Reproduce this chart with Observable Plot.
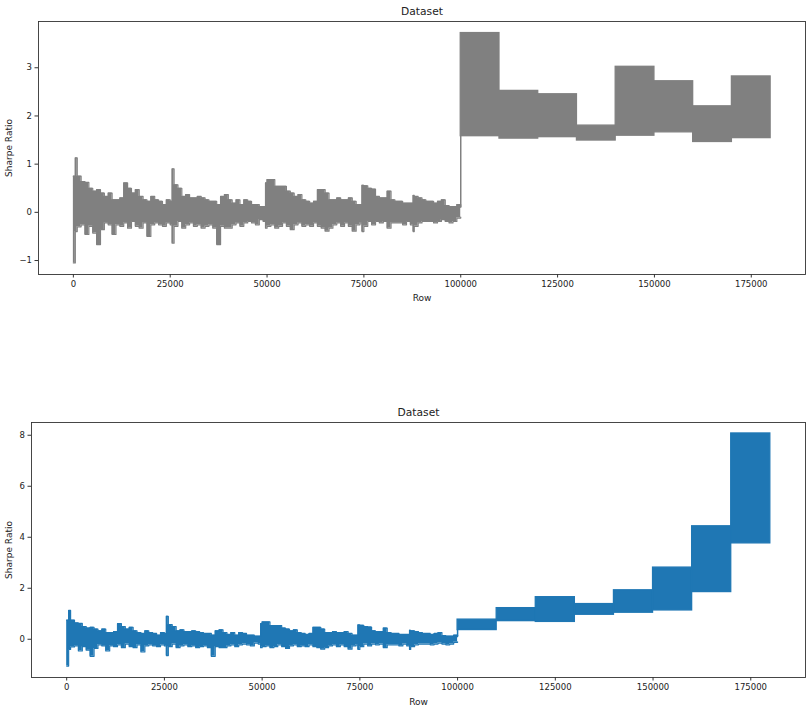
<!DOCTYPE html>
<html><head><meta charset="utf-8">
<script src="https://cdn.jsdelivr.net/npm/d3@7"></script>
<script src="https://cdn.jsdelivr.net/npm/@observablehq/plot@0.6"></script>
<style>
body{margin:0;background:#fff;width:810px;height:712px;position:relative;overflow:hidden;font-family:"DejaVu Sans",sans-serif}
#top,#bottom{position:absolute;left:0}
#top{top:0}
#bottom{top:400px}
</style></head><body><div id="top"></div><div id="bottom"></div>
<script>
// Envelope of the dense oscillating series for rows 0..100000 (same in both panels)
const envRows = [0,500,1000,2000,3000,4000,5000,6000,7000,8000,9000,10000,11000,12000,13000,14000,15000,16000,17000,18000,19000,20000,21000,22000,23000,24000,25000,25500,26000,27000,28000,29000,30000,31000,32000,33000,34000,35000,36000,37000,38000,39000,40000,41000,42000,43000,44000,45000,46000,47000,48000,49000,49600,50000,51000,52000,53000,54000,55000,56000,57000,58000,59000,60000,61000,62000,63000,64000,65000,66000,67000,68000,69000,70000,71000,72000,73000,74000,74500,75000,76000,77000,78000,79000,80000,81000,82000,83000,84000,85000,86000,87000,87700,88000,89000,90000,91000,92000,93000,94000,95000,96000,97000,98000,99000,100000];
const envHigh = [0.75,1.13,0.75,0.64,0.62,0.50,0.44,0.47,0.40,0.33,0.40,0.26,0.26,0.30,0.61,0.50,0.40,0.47,0.33,0.26,0.23,0.33,0.26,0.23,0.16,0.26,0.23,0.90,0.57,0.50,0.33,0.37,0.30,0.30,0.33,0.30,0.26,0.23,0.23,0.16,0.33,0.37,0.26,0.19,0.26,0.16,0.26,0.23,0.16,0.16,0.12,0.12,0.61,0.68,0.68,0.54,0.54,0.54,0.44,0.40,0.33,0.37,0.26,0.23,0.19,0.23,0.47,0.47,0.40,0.26,0.26,0.30,0.26,0.26,0.30,0.23,0.16,0.16,0.56,0.55,0.50,0.48,0.33,0.30,0.30,0.44,0.26,0.23,0.23,0.19,0.19,0.19,0.35,0.33,0.30,0.26,0.23,0.23,0.19,0.23,0.26,0.14,0.12,0.12,0.16,0.10];
const envLow = [-1.05,-0.40,-0.30,-0.26,-0.46,-0.29,-0.43,-0.67,-0.36,-0.22,-0.26,-0.46,-0.26,-0.29,-0.22,-0.33,-0.19,-0.29,-0.33,-0.22,-0.50,-0.26,-0.22,-0.26,-0.29,-0.22,-0.26,-0.64,-0.29,-0.19,-0.33,-0.26,-0.22,-0.29,-0.26,-0.33,-0.29,-0.26,-0.33,-0.67,-0.29,-0.33,-0.33,-0.26,-0.22,-0.29,-0.22,-0.19,-0.22,-0.26,-0.15,-0.19,-0.33,-0.29,-0.26,-0.33,-0.29,-0.22,-0.29,-0.36,-0.26,-0.22,-0.29,-0.26,-0.29,-0.22,-0.29,-0.33,-0.39,-0.33,-0.26,-0.22,-0.29,-0.22,-0.29,-0.39,-0.26,-0.22,-0.40,-0.29,-0.19,-0.26,-0.19,-0.22,-0.19,-0.33,-0.22,-0.22,-0.22,-0.26,-0.19,-0.26,-0.40,-0.29,-0.22,-0.19,-0.19,-0.19,-0.22,-0.19,-0.15,-0.19,-0.22,-0.19,-0.12,-0.10];

// Blocks for rows 100000..180000
const blockStart = [100000,110000,120000,130000,140000,150000,160000,170000];
const blockEnd   = [110000,120000,130000,140000,150000,160000,170000,180000];
const topBlockLow  = [1.58,1.53,1.56,1.49,1.59,1.66,1.46,1.54];
const topBlockHigh = [3.72,2.52,2.45,1.80,3.02,2.72,2.20,2.82];
const botBlockLow  = [0.36,0.71,0.68,0.96,1.04,1.13,1.85,3.76];
const botBlockHigh = [0.77,1.22,1.65,1.38,1.92,2.81,4.43,8.07];

const xTicks = [0,25000,50000,75000,100000,125000,150000,175000];
const topYTicks = [-1,0,1,2,3];
const botYTicks = [0,2,4,6,8];
const titleText = "Dataset";
const xLabel = "Row";
const yLabel = "Sharpe Ratio";

const noise = envRows.map((r,i)=>({row:r, high:envHigh[i], low:envLow[i]}));
const mkBlocks = (lo,hi)=>blockStart.map((s,i)=>({x1:s, x2:blockEnd[i], y1:lo[i], y2:hi[i]}));
const fmtY = d => d < 0 ? "\u2212" + Math.abs(d) : String(d);

function panel({color, blocks, yDomain, yTicks, height, mt, mb, ml, ylabDx, rowDy}) {
  return Plot.plot({
    width: 810, height,
    marginTop: mt, marginBottom: mb, marginLeft: ml, marginRight: 5,
    x: {domain: [-9000, 189000]},
    y: {domain: yDomain},
    style: {fontFamily: "DejaVu Sans, sans-serif", fontSize: "8.5px", color: "#222", background: "#fff"},
    marks: [
      Plot.areaY(noise, {x:"row", y1:"low", y2:"high", curve:"step-after", fill: color}),
      Plot.line(noise, {x:"row", y:"high", curve:"step-after", stroke: color, strokeWidth: 1.2}),
      Plot.line(noise, {x:"row", y:"low", curve:"step-after", stroke: color, strokeWidth: 1.2}),
      Plot.ruleX([blockStart[0]], {y1: envHigh[envHigh.length-1], y2: blocks[0].y1, stroke: color, strokeWidth: 1.5}),
      Plot.rect(blocks, {x1:"x1", x2:"x2", y1:"y1", y2:"y2", fill: color, stroke: color, strokeWidth: 1.3}),
      Plot.frame({stroke: "#333", strokeWidth: 0.9}),
      Plot.axisX({ticks: xTicks, tickFormat: d => String(d), tickSize: 3.5, tickPadding: 3, label: null, stroke: "#333"}),
      Plot.axisY({ticks: yTicks, tickFormat: fmtY, tickSize: 3.5, tickPadding: 3, label: null, stroke: "#333"}),
      Plot.text([titleText], {frameAnchor: "top", lineAnchor: "middle", dy: -10, fontSize: 10.7, fill: "#222"}),
      Plot.text([xLabel], {frameAnchor: "bottom", lineAnchor: "middle", dy: rowDy, fontSize: 9, fill: "#222"}),
      Plot.text([yLabel], {frameAnchor: "left", textAnchor: "middle", lineAnchor: "middle", dx: ylabDx, rotate: -90, fontSize: 9, fill: "#222"})
    ]
  });
}

document.getElementById("top").appendChild(panel({
  color: "#808080", blocks: mkBlocks(topBlockLow, topBlockHigh),
  yDomain: [-1.29, 3.96], yTicks: topYTicks, height: 310, mt: 21, mb: 36, ml: 38, ylabDx: -29, rowDy: 23.5
}));
document.getElementById("bottom").appendChild(panel({
  color: "#1f77b4", blocks: mkBlocks(botBlockLow, botBlockHigh),
  yDomain: [-1.5, 8.5], yTicks: botYTicks, height: 312, mt: 22, mb: 35, ml: 31, ylabDx: -22, rowDy: 24.5
}));
</script></body></html>
